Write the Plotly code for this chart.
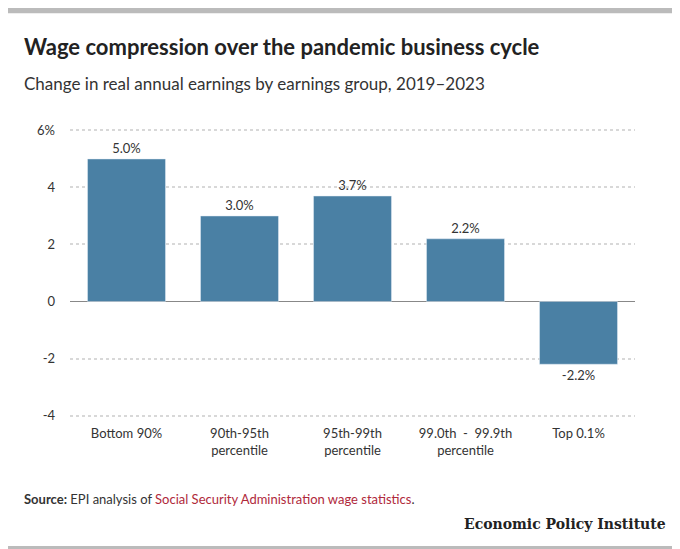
import plotly.graph_objects as go

categories = ["Bottom 90%", "90th-95th<br>percentile", "95th-99th<br>percentile", "99.0th  -  99.9th<br>percentile", "Top 0.1%"]
values = [5.0, 3.0, 3.7, 2.2, -2.2]
labels = ["5.0%", "3.0%", "3.7%", "2.2%", "-2.2%"]
tickvals = [-4, -2, 0, 2, 4, 6]
ticktext = ["-4", "-2", "0", "2", "4", "6%"]

fig = go.Figure(go.Bar(
    x=categories, y=values, text=labels, textposition="outside",
    marker_color="#4a80a4", width=0.69, cliponaxis=False,
    textfont=dict(size=13, color="#333"),
))
fig.update_layout(
    width=680, height=549, plot_bgcolor="white", paper_bgcolor="white",
    margin=dict(l=62, r=53, t=121, b=140),
    font=dict(family="Lato", color="#333"),
    showlegend=False, bargap=0.31,
    xaxis=dict(tickfont=dict(size=13), ticks="", showgrid=False, ticklabelstandoff=7),
    yaxis=dict(range=[-4.05, 6.05], tickvals=tickvals, ticktext=ticktext,
               showgrid=True, gridcolor="#d8d8d8", griddash="dot", gridwidth=2,
               zeroline=True, zerolinecolor="#888", zerolinewidth=1,
               tickfont=dict(size=13), ticklabelstandoff=14),
    annotations=[
        dict(text="<b>Wage compression over the pandemic business cycle</b>", xref="paper", yref="paper",
             x=-0.085, y=1.285, xanchor="left", yanchor="middle", showarrow=False, font=dict(size=22, color="#222")),
        dict(text="Change in real annual earnings by earnings group, 2019–2023", xref="paper", yref="paper",
             x=-0.085, y=1.158, xanchor="left", yanchor="middle", showarrow=False, font=dict(size=17, color="#333")),
        dict(text="<b>Source:</b> EPI analysis of <span style='color:#b0293b'>Social Security Administration wage statistics</span>.",
             xref="paper", yref="paper", x=-0.085, y=-0.283, xanchor="left", yanchor="middle", showarrow=False,
             font=dict(size=13, color="#333")),
        dict(text="<b>Economic Policy Institute</b>", xref="paper", yref="paper", x=1.058, y=-0.37,
             xanchor="right", yanchor="middle", showarrow=False, font=dict(size=14, family="DejaVu Serif", color="#222")),
    ],
    shapes=[
        dict(type="rect", xref="paper", yref="paper", x0=-0.2, x1=1.2, y0=-0.47, y1=-0.448,
             fillcolor="#bbb", line_width=0),
        dict(type="rect", xref="paper", yref="paper", x0=-0.2, x1=1.2, y0=1.402, y1=1.45,
             fillcolor="#bbb", line_width=0),
    ],
)
fig.write_html("out.html")
